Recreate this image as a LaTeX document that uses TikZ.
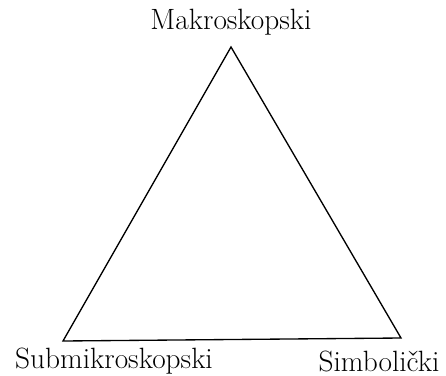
\documentclass[tikz,border=0pt]{standalone}
\usepackage{tikz}
\usetikzlibrary{positioning}
\tikzset{side/.style={line width=1pt,black,line join=miter},
lbl/.style={font=\fontsize{22}{24}\selectfont,inner sep=0pt}}

\begin{document}
\begin{tikzpicture}[x=0.75pt,y=-0.75pt]
\useasboundingbox (0,0) rectangle (446,375);
\coordinate (top) at (231,47);
\coordinate (left) at (63,341);
\coordinate (right) at (401,338);
\draw[side] (top)--(left)--(right)--cycle;
\node[lbl] (makro) at (231,22) {Makroskopski};
\node[lbl] (submikro) at (114,361) {Submikroskopski};
\node[lbl] (simbol) at (379,361) {Simbolički};
\end{tikzpicture}
\end{document}
